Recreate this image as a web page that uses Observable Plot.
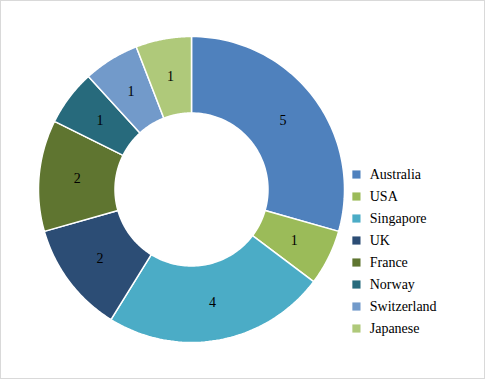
<!DOCTYPE html>
<html>
<head>
<meta charset="utf-8">
<script src="https://cdn.jsdelivr.net/npm/d3@7"></script>
<script src="https://cdn.jsdelivr.net/npm/@observablehq/plot@0.6"></script>
<style>
  body { margin: 0; background: #fff; }
  #wrap { position: relative; width: 485px; height: 379px; }
  #border { position: absolute; left: 0; top: 0; width: 485px; height: 379px; box-sizing: border-box; border: 1px solid #d9d9d9; pointer-events: none; }
  #chart svg, #chart svg text { font-family: "Liberation Serif", "Times New Roman", serif !important; }
</style>
</head>
<body>
<div id="wrap"><div id="chart"></div><div id="border"></div></div>
<script>
const countries = ["Australia", "USA", "Singapore", "UK", "France", "Norway", "Switzerland", "Japanese"];
const counts = [5, 1, 4, 2, 2, 1, 1, 1];
const colors = ["#4F81BD", "#9BBB59", "#4BACC6", "#2C4D75", "#5F7530", "#276A7C", "#729ACA", "#AFC97A"];

const innerR = 0.5, outerR = 1, labelR = 0.75;
const data = countries.map((name, i) => ({name, value: counts[i]}));
const arcs = d3.pie().sort(null).value(d => d.value)(data);

// polygon outline of each donut slice (angle 0 at top, clockwise)
const pts = [];
arcs.forEach(a => {
  const n = 60;
  const ring = [];
  for (let k = 0; k <= n; k++) {
    const t = a.startAngle + (a.endAngle - a.startAngle) * k / n;
    ring.push({name: a.data.name, x: outerR * Math.sin(t), y: outerR * Math.cos(t)});
  }
  for (let k = n; k >= 0; k--) {
    const t = a.startAngle + (a.endAngle - a.startAngle) * k / n;
    ring.push({name: a.data.name, x: innerR * Math.sin(t), y: innerR * Math.cos(t)});
  }
  ring.push({...ring[0]});
  pts.push(...ring);
});

const labels = arcs.map(a => {
  const m = (a.startAngle + a.endAngle) / 2;
  return {x: labelR * Math.sin(m), y: labelR * Math.cos(m), text: String(a.data.value)};
});

const legendStep = 0.1438;
const legend = countries.map((name, i) => ({name, y: 0.098 - i * legendStep}));

const serif = "'Liberation Serif', 'Times New Roman', serif";
const chart = Plot.plot({
  width: 485,
  height: 379,
  marginLeft: 38,
  marginRight: 141,
  marginTop: 36,
  marginBottom: 37,
  x: {domain: [-1, 1], axis: null},
  y: {domain: [-1, 1], axis: null},
  color: {domain: countries, range: colors},
  style: {fontFamily: serif, background: "white"},
  marks: [
    Plot.line(pts, {x: "x", y: "y", z: "name", fill: "name", stroke: "white", strokeWidth: 1.5, curve: "linear"}),
    Plot.text(labels, {x: "x", y: "y", text: "text", fontSize: 14, fontFamily: serif, fill: "#000"}),
    Plot.dot(legend, {x: 1.078, y: "y", symbol: "square", r: 4.6, fill: "name", stroke: null}),
    Plot.text(legend, {x: 1.165, y: "y", text: "name", textAnchor: "start", fontSize: 14, fontFamily: serif, fill: "#000"})
  ]
});
document.getElementById("chart").appendChild(chart);
</script>
</body>
</html>
